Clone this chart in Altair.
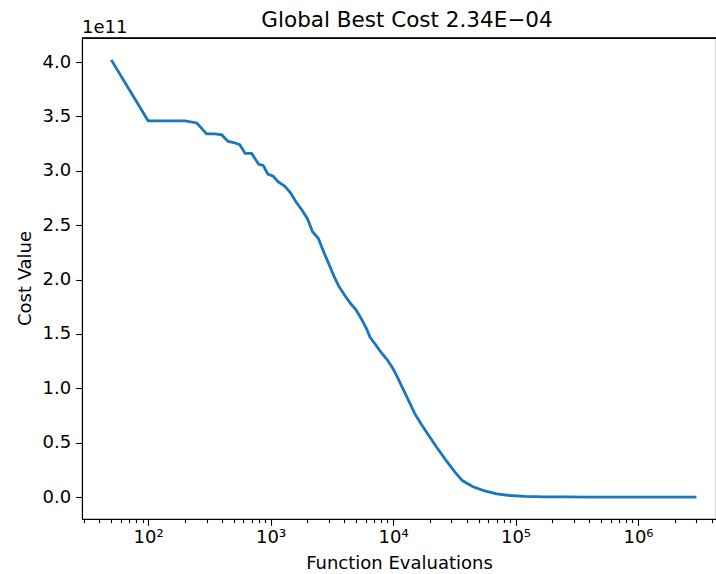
import altair as alt
import pandas as pd

# ---- data (cost in units of 1e11) ----
evaluations = [50, 100, 150, 200, 250, 300, 350, 400, 450, 500, 560, 620, 700, 800, 870,
               950, 1050, 1150, 1300, 1450, 1600, 1800, 2000, 2200, 2450, 2700, 3000, 3300,
               3600, 4000, 4500, 5000, 5500, 6000, 6500, 7000, 8000, 9000, 10000, 11000,
               12000, 13500, 15000, 17000, 20000, 23000, 27000, 32000, 37000, 45000, 55000,
               70000, 90000, 120000, 170000, 250000, 400000, 700000, 1200000, 2000000, 3000000]
cost_e11 = [4.02, 3.46, 3.46, 3.46, 3.44, 3.34, 3.34, 3.33, 3.27, 3.26, 3.24, 3.16, 3.16, 3.06, 3.05,
            2.97, 2.95, 2.90, 2.86, 2.80, 2.72, 2.64, 2.56, 2.44, 2.38, 2.26, 2.14, 2.03,
            1.94, 1.86, 1.78, 1.72, 1.64, 1.56, 1.47, 1.42, 1.33, 1.26, 1.18, 1.09,
            1.00, 0.88, 0.77, 0.67, 0.55, 0.45, 0.34, 0.23, 0.15, 0.095, 0.06,
            0.03, 0.015, 0.007, 0.003, 0.0015, 0.0006, 0.0002, 0.0001, 0.00005, 0.0]

x_major_ticks = [100, 1000, 10000, 100000, 1000000]
x_major_labels = ["10²", "10³", "10⁴", "10⁵", "10⁶"]
y_ticks = [0.0, 0.5, 1.0, 1.5, 2.0, 2.5, 3.0, 3.5, 4.0]

title_text = "Global Best Cost 2.34E\u221204"
x_title = "Function Evaluations"
y_title = "Cost Value"
offset_text = "1e11"

df = pd.DataFrame({"evals": evaluations, "cost": cost_e11})

x_domain = [10 ** 1.460, 10 ** 6.637]
y_domain = [-0.201, 4.221]

minor = []
for k in range(1, 7):
    for m in range(2, 10):
        v = m * 10 ** k
        if x_domain[0] <= v <= x_domain[1]:
            minor.append(v)
all_x_ticks = sorted(minor + x_major_ticks)

label_expr = ""
for v, lab in zip(x_major_ticks, x_major_labels):
    label_expr += f"datum.value == {v} ? '{lab}' : "
label_expr += "''"
major_test = " || ".join(f"datum.value == {v}" for v in x_major_ticks)

FONT = "DejaVu Sans"

line = alt.Chart(df).mark_line(color="#1a76bd", strokeWidth=2.8, clip=True).encode(
    x=alt.X("evals:Q",
            scale=alt.Scale(type="log", domain=x_domain, nice=False),
            axis=alt.Axis(values=all_x_ticks, labelExpr=label_expr, title=x_title,
                          grid=False, labelOverlap=False, labelFlush=False,
                          tickSize={"condition": {"test": major_test, "value": 6.3}, "value": 3.6},
                          tickWidth=1.1, tickColor="black", domainColor="black", domainWidth=1.1,
                          labelFont=FONT, labelFontSize=18, labelColor="black", labelPadding=3,
                          titleFont=FONT, titleFontSize=18, titleFontWeight="normal",
                          titleColor="black", titleY=44, titleBaseline="middle")),
    y=alt.Y("cost:Q",
            scale=alt.Scale(domain=y_domain, nice=False, zero=False),
            axis=alt.Axis(values=y_ticks, format=".1f", title=y_title, grid=False,
                          tickSize=6.3, tickWidth=1.1, tickColor="black",
                          domainColor="black", domainWidth=1.1,
                          labelFont=FONT, labelFontSize=18, labelColor="black", labelPadding=5,
                          titleFont=FONT, titleFontSize=18, titleFontWeight="normal",
                          titleColor="black", titleX=-57, titleY=240, titleAngle=-90,
                          titleBaseline="middle", titleAlign="center")),
)

top_spine = alt.Chart(pd.DataFrame({"t": [0]})).mark_rule(
    color="black", strokeWidth=1.3
).encode(x=alt.value(0), x2=alt.value(634), y=alt.value(0))

offset = alt.Chart(pd.DataFrame({"t": [offset_text]})).mark_text(
    font=FONT, fontSize=18, align="left", baseline="alphabetic", color="black"
).encode(x=alt.value(0), y=alt.value(-5), text="t:N")

title = alt.Chart(pd.DataFrame({"t": [title_text]})).mark_text(
    font=FONT, fontSize=21.5, align="center", baseline="alphabetic", color="black"
).encode(x=alt.value(325), y=alt.value(-11), text="t:N")

chart = alt.layer(line, top_spine, offset, title).properties(
    width=634, height=481,
    background="white",
    autosize=alt.AutoSizeParams(type="none"),
    padding={"left": 82, "top": 38, "right": 0, "bottom": 55},
).configure_view(stroke="black", strokeWidth=1.1)

chart.save("out.html", embed_options={"renderer": "svg", "actions": False})
